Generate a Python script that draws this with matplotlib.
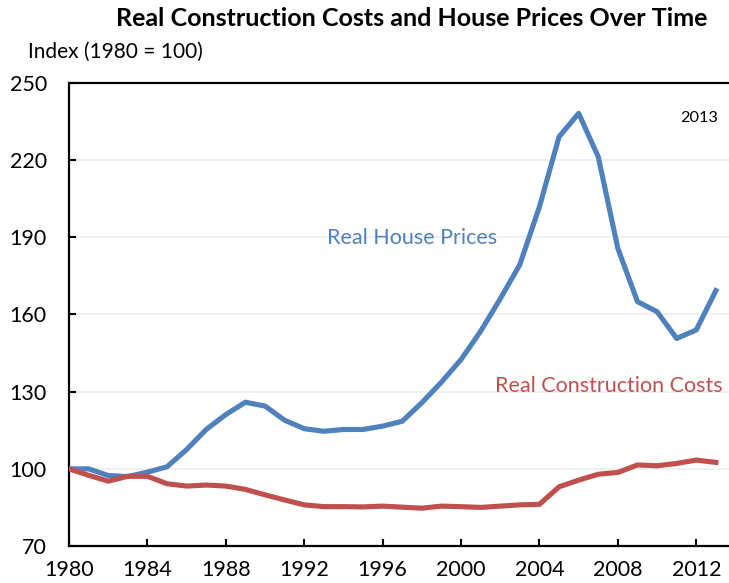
import numpy as np
import matplotlib
matplotlib.use("Agg")
from matplotlib import pyplot as plt

plt.rcParams['font.family'] = ['Lato', 'DejaVu Sans']

years = list(range(1980, 2014))
house_prices = [100.0, 100.0, 97.4, 97.0, 98.7, 100.8, 107.5, 115.3, 121.1, 125.9,
                124.4, 118.9, 115.6, 114.6, 115.3, 115.3, 116.6, 118.5, 125.7, 133.7,
                142.5, 153.5, 166.1, 179.4, 201.9, 229.1, 238.2, 221.3, 185.7, 165.0,
                161.1, 150.7, 154.0, 169.3]
construction_costs = [100.0, 97.5, 95.2, 97.1, 97.1, 94.2, 93.3, 93.7, 93.3, 92.0,
                      89.9, 87.9, 86.0, 85.3, 85.3, 85.2, 85.5, 85.1, 84.7, 85.5,
                      85.3, 85.0, 85.5, 86.0, 86.2, 93.0, 95.6, 97.9, 98.6, 101.5,
                      101.2, 102.1, 103.4, 102.5]
x_ticks = list(range(1980, 2013, 4))
y_ticks = [70, 100, 130, 160, 190, 220, 250]

blue = '#4F81BD'
red = '#C0504D'

fig = plt.figure(figsize=(7.29, 5.83), dpi=100)
ax = fig.add_axes([69/729, 1-546/583, 1-69/729, (546-83)/583])

ax.plot(years, house_prices, color=blue, lw=3.7, solid_joinstyle='round', zorder=3)
ax.plot(years, construction_costs, color=red, lw=3.7, solid_joinstyle='round', zorder=3)

ax.set_xlim(1980, 2013.67)
ax.set_ylim(70, 250)
ax.set_xticks(x_ticks)
ax.set_yticks(y_ticks)
for v in y_ticks[1:-1]:
    ax.axhline(v, color='#EEEEEE', lw=1.2, zorder=1)

ax.spines['right'].set_visible(False)
for s in ['left', 'bottom', 'top']:
    ax.spines[s].set_linewidth(1.6)
ax.tick_params(axis='both', direction='in', length=5, width=1.5, labelsize=15.5)
ax.tick_params(axis='y', pad=16)
ax.tick_params(axis='x', pad=10)

fig.text(412/729, 1-18/583, 'Real Construction Costs and House Prices Over Time',
         ha='center', va='center', fontsize=18, fontweight='bold')
fig.text(28/729, 1-52/583, 'Index (1980 = 100)', ha='left', va='center', fontsize=15)
fig.text(718/729, 1-118/583, '2013', ha='right', va='center', fontsize=11.8)
fig.text(412/729, 1-238/583, 'Real House Prices', ha='center', va='center',
         fontsize=15.5, color=blue)
fig.text(723/729, 1-386/583, 'Real Construction Costs', ha='right', va='center',
         fontsize=15.5, color=red)

fig.savefig('out.png', dpi=100)
